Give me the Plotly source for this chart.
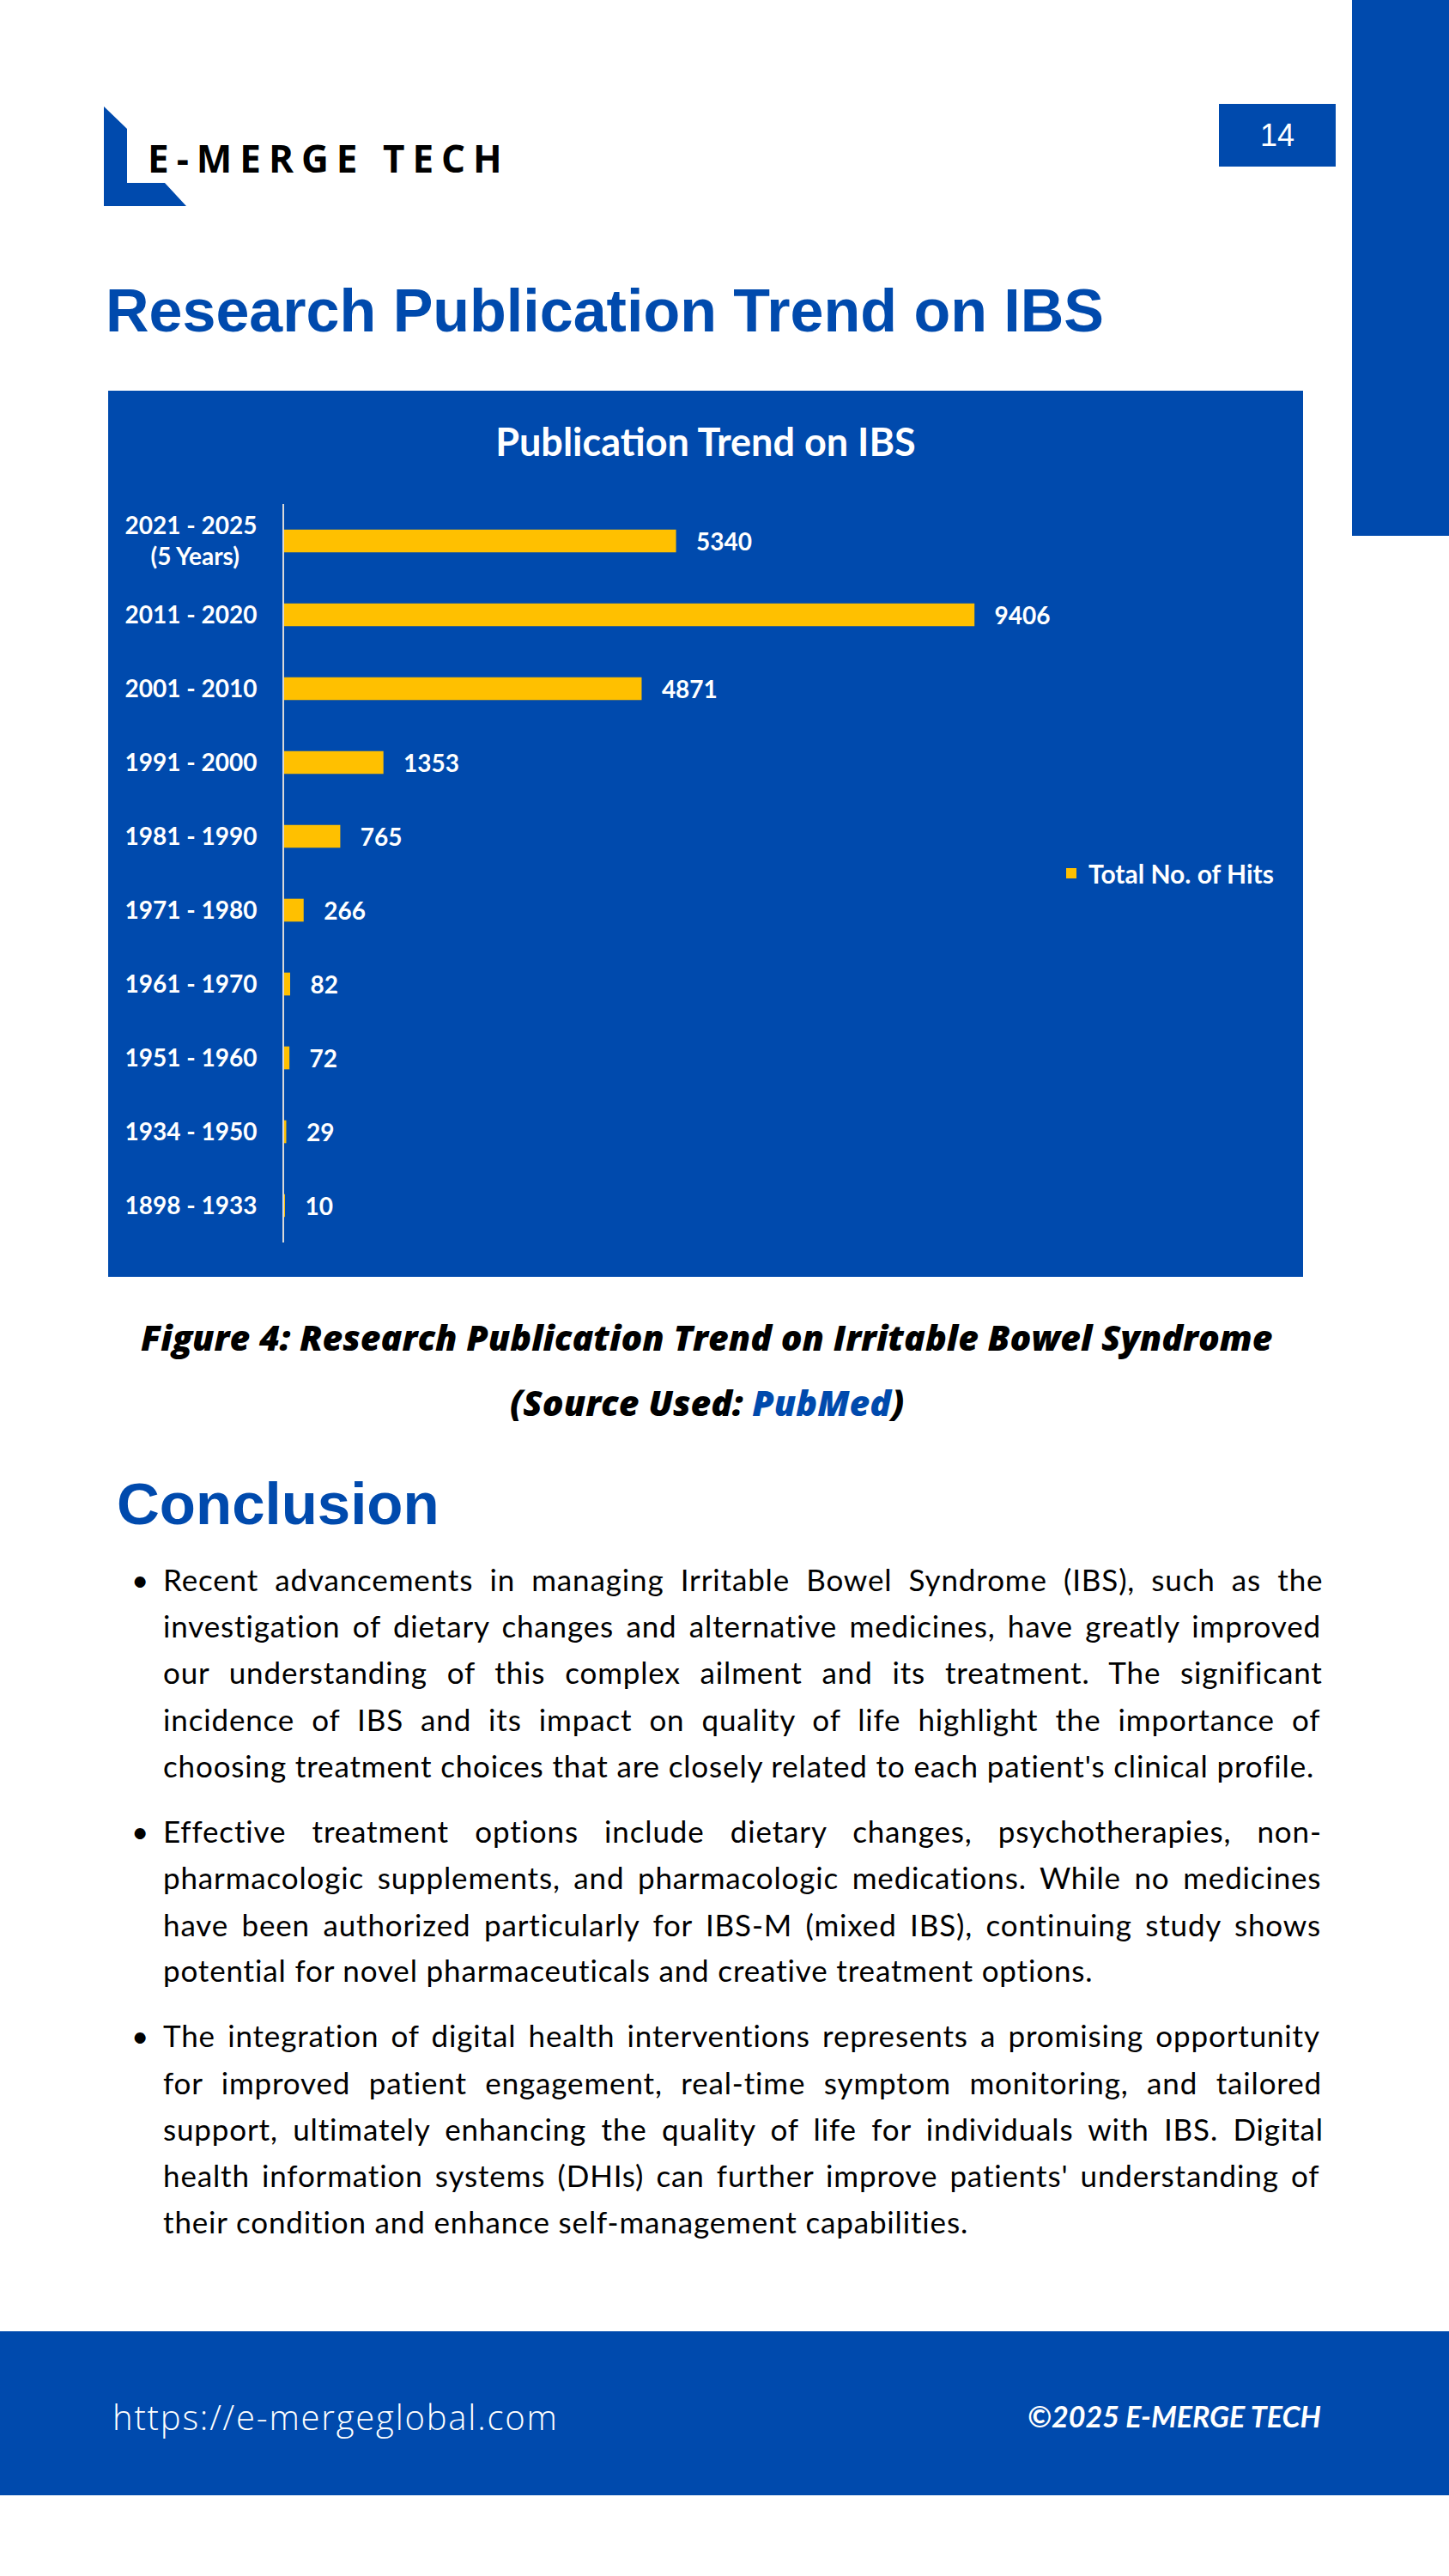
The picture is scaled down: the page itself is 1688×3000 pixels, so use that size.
import plotly.graph_objects as go

W, H = 1688, 3000
BLUE = "#004AAD"
YELLOW = "#FFC000"

# ---------------- data ----------------
categories = ["2021 - 2025<br>(5 Years)", "2011 - 2020", "2001 - 2010", "1991 - 2000",
              "1981 - 1990", "1971 - 1980", "1961 - 1970", "1951 - 1960",
              "1934 - 1950", "1898 - 1933"]
tick_labels = ["2021 - 2025<br>(5 Years)\u00a0\u00a0\u00a0", "2011 - 2020", "2001 - 2010", "1991 - 2000",
               "1981 - 1990", "1971 - 1980", "1961 - 1970", "1951 - 1960",
               "1934 - 1950", "1898 - 1933"]
hits = [5340, 9406, 4871, 1353, 765, 266, 82, 72, 29, 10]
series_name = "Total No. of Hits"
chart_title = "Publication Trend on IBS"

page_title = "Research Publication Trend on IBS"
caption_1 = "Figure 4: Research Publication Trend on Irritable Bowel Syndrome"
caption_2 = "(Source Used: <span style='color:#004AAD'>PubMed</span>)"
section_title = "Conclusion"
paragraphs = [
    ["Recent advancements in managing Irritable Bowel Syndrome (IBS), such as the",
     "investigation of dietary changes and alternative medicines, have greatly improved",
     "our understanding of this complex ailment and its treatment. The significant",
     "incidence of IBS and its impact on quality of life highlight the importance of",
     "choosing treatment choices that are closely related to each patient's clinical profile."],
    ["Effective treatment options include dietary changes, psychotherapies, non-",
     "pharmacologic supplements, and pharmacologic medications. While no medicines",
     "have been authorized particularly for IBS-M (mixed IBS), continuing study shows",
     "potential for novel pharmaceuticals and creative treatment options."],
    ["The integration of digital health interventions represents a promising opportunity",
     "for improved patient engagement, real-time symptom monitoring, and tailored",
     "support, ultimately enhancing the quality of life for individuals with IBS. Digital",
     "health information systems (DHIs) can further improve patients' understanding of",
     "their condition and enhance self-management capabilities."],
]
para_baselines = [[1851, 1905, 1959, 2014, 2068],
                  [2144, 2198, 2253, 2306],
                  [2382, 2437, 2491, 2545, 2599]]
# layout helper: natural rendered width of each line at 32px Lato (None = last line, not justified)
natural_w32 = [[1092, 1136, 1058, 1054, None],
               [1048, 1140, 1123, None],
               [1136, 1092, 1095, 1138, None]]
footer_url = "https://e-mergeglobal.com"
footer_copy = "©2025 E-MERGE TECH"
logo_text = "E-MERGE TECH"
page_number = "14"


def X(px):
    return px / W


def Y(py):
    return 1 - py / H


fig = go.Figure()
fig.add_trace(go.Bar(
    y=categories, x=hits, orientation="h", name=series_name,
    marker=dict(color=YELLOW, line=dict(width=0)),
    width=0.31,
    text=[str(v) for v in hits], texttemplate="\u00a0\u00a0\u00a0%{text}",
    textposition="outside", constraintext="none", cliponaxis=False,
    textfont=dict(family="Lato", size=28, color="white", weight="bold"),
    showlegend=True, hoverinfo="skip",
))

shapes = []


def rect(x0, y0, x1, y1, color):
    shapes.append(dict(type="rect", xref="paper", yref="paper", x0=X(x0), x1=X(x1),
                       y0=Y(y1), y1=Y(y0), fillcolor=color, line=dict(width=0), layer="below"))


rect(126, 455, 1518, 1487, BLUE)       # chart background
rect(1575, 0, 1688, 624, BLUE)         # right side bar
rect(1420, 121, 1556, 194, BLUE)       # page number box
rect(0, 2715, 1688, 2906, BLUE)        # footer band

logo_pts = [(121, 124), (148, 150), (148, 213), (192, 213), (217, 240), (121, 240)]
path = "M " + " L ".join(f"{X(a):.5f},{Y(b):.5f}" for a, b in logo_pts) + " Z"
shapes.append(dict(type="path", xref="paper", yref="paper", path=path,
                   fillcolor=BLUE, line=dict(width=0), layer="below"))

ann = []


def text(t, x, y, size, color="black", family="Lato", weight="normal", style="normal",
         xanchor="left"):
    ann.append(dict(text=t, x=X(x), y=Y(y), xref="paper", yref="paper", showarrow=False,
                    xanchor=xanchor, yanchor="middle",
                    font=dict(family=family, size=size, color=color, weight=weight, style=style)))


text(f"<span style='letter-spacing:9px'>{logo_text}</span>", 170, 184, 44,
     family="Open Sans", weight="bold")
text(page_number, 1488, 158, 36, color="white", family="Liberation Sans", xanchor="center")
text(page_title, 121, 362, 70, color=BLUE, family="Liberation Sans", weight="bold")
text(caption_1, 823, 1557, 41, family="Open Sans", weight=800, style="italic", xanchor="center")
text(caption_2, 823, 1633, 41, family="Open Sans", weight=800, style="italic", xanchor="center")
text(section_title, 134, 1751, 69, color=BLUE, family="Liberation Sans", weight="bold")

BODY = 35
LS = 0.85
LEFT, RIGHT = 188, 1540
for lines, bases, nat in zip(paragraphs, para_baselines, natural_w32):
    text("•", 163, bases[0] - 12, BODY, xanchor="center")
    for ln, b, w32 in zip(lines, bases, nat):
        if w32 is None:
            ws = 0
        else:
            w_nat = w32 * BODY / 32 + len(ln) * LS
            ws = max(0.0, (RIGHT - LEFT - w_nat) / max(1, ln.count(" ")))
        t = f"<span style='letter-spacing:{LS}px;word-spacing:{ws:.2f}px'>{ln}</span>"
        text(t, LEFT, b - 12, BODY)

text(f"<span style='letter-spacing:1.8px'>{footer_url}</span>", 129, 2814, 40,
     color="white", family="Open Sans", weight=300)
text(footer_copy, 1541, 2813, 34, color="white", family="Lato", weight="bold", style="italic",
     xanchor="right")

fig.update_layout(
    width=W, height=H, autosize=False,
    margin=dict(l=0, r=0, t=0, b=0, pad=0),
    paper_bgcolor="white", plot_bgcolor="rgba(0,0,0,0)",
    title=dict(text=chart_title, x=X(822), y=Y(515), xanchor="center", yanchor="middle",
               xref="paper", yref="paper",
               font=dict(family="Lato", size=45, color="white", weight="bold")),
    xaxis=dict(domain=[X(331), X(1186)], range=[0, 10000], visible=False, fixedrange=True),
    yaxis=dict(domain=[Y(1447), Y(587)], autorange="reversed", showline=True,
               linecolor="#D9D9D9", linewidth=2, ticks="", showgrid=False, zeroline=False,
               tickmode="array", tickvals=categories, ticktext=tick_labels,
               ticklabelstandoff=24,
               tickfont=dict(family="Lato", size=28, color="white", weight="bold"),
               fixedrange=True),
    legend=dict(x=X(1228), y=Y(1017), xanchor="left", yanchor="middle",
                bgcolor="rgba(0,0,0,0)", borderwidth=0,
                font=dict(family="Lato", size=30, color="white", weight="bold")),
    shapes=shapes, annotations=ann,
)

fig.write_html("out.html", config={"displayModeBar": False},
               post_script="document.body.style.margin='0px';")
